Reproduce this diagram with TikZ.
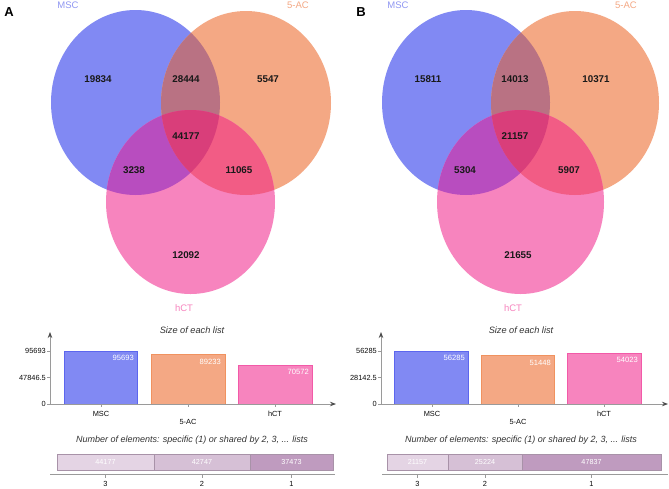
\documentclass[tikz,border=0pt]{standalone}
\usepackage{fontspec}
\setmainfont{Liberation Sans}
\usetikzlibrary{arrows.meta}
\definecolor{cb}{HTML}{8189F3}
\definecolor{co}{HTML}{F4A884}
\definecolor{cp}{HTML}{F784BE}
\definecolor{cbo}{HTML}{B97283}
\definecolor{cbp}{HTML}{B84DBF}
\definecolor{cop}{HTML}{F25C85}
\definecolor{call}{HTML}{D93E7A}
\definecolor{lb}{HTML}{9097F2}
\definecolor{bb}{HTML}{5C66EE}
\definecolor{bo}{HTML}{F0925F}
\definecolor{bp}{HTML}{F25AA8}
\definecolor{s3}{HTML}{E4D4E4}
\definecolor{s2}{HTML}{D6C0D6}
\definecolor{s1}{HTML}{BF9BBF}
\definecolor{sb}{HTML}{A892A8}
\definecolor{ax}{HTML}{9A9A9A}
\tikzset{
  num/.style={font=\bfseries\fontsize{9.8}{10}\selectfont, text=black!90, inner sep=0pt},
  setlab/.style={font=\fontsize{9.5}{10}\selectfont, inner sep=0pt},
  panel/.style={font=\bfseries\fontsize{13}{13}\selectfont, inner sep=0pt},
  ttl/.style={font=\itshape\fontsize{9.2}{10}\selectfont, text=black!80, inner sep=0pt},
  tick/.style={font=\fontsize{7.4}{8}\selectfont, text=black!95, inner sep=0pt},
  val/.style={font=\fontsize{7.6}{8}\selectfont, text=white, inner sep=0pt},
  cat/.style={font=\fontsize{7.4}{8}\selectfont, text=black!95, inner sep=0pt},
  axis/.style={draw=ax, line width=0.8pt},
  axarrow/.style={axis, -{Stealth[length=6pt,width=4.5pt,color=black!70,fill=black!70]}},
  seg/.style={draw=sb, line width=0.6pt},
  segval/.style={font=\fontsize{7.2}{8}\selectfont, text=white, inner sep=0pt},
}
\begin{document}
\begin{tikzpicture}[x=1pt,y=-1pt]
\useasboundingbox (0,0) rectangle (669,488);
\fill[white] (0,0) rectangle (669,488);
% ================= Panel A Venn =================
\def\BA{(135.5,102.5) ellipse [x radius=84.5, y radius=92.5]}
\def\OA{(246,103) ellipse [x radius=85, y radius=92]}
\def\PA{(190.5,202) ellipse [x radius=84.5, y radius=92]}
\fill[cb] \BA; \fill[co] \OA; \fill[cp] \PA;
\begin{scope}\clip \BA; \fill[cbo] \OA; \end{scope}
\begin{scope}\clip \BA; \fill[cbp] \PA; \end{scope}
\begin{scope}\clip \OA; \fill[cop] \PA; \end{scope}
\begin{scope}\clip \BA; \clip \OA; \fill[call] \PA; \end{scope}
\node[panel] (pA) at (9,12) {A};
\node[setlab, text=lb] (mscA) at (68,5) {MSC};
\node[setlab, text=co] (acA) at (298,5) {5-AC};
\node[setlab, text=cp] (hctA) at (184,308) {hCT};
\node[num] (a1) at (98,79) {19834};
\node[num] (a2) at (186,79) {28444};
\node[num] (a3) at (268,79) {5547};
\node[num] (a4) at (186,136) {44177};
\node[num] (a5) at (134,170) {3238};
\node[num] (a6) at (239,170) {11065};
\node[num] (a7) at (186,255) {12092};
% ================= Panel A bars =================
\node[ttl] (tA) at (192,330) {Size of each list};
\coordinate (oA) at (50,404);
\coordinate (yA) at (50,332);
\coordinate (xA) at (336,404);
\filldraw[fill=cb, draw=bb, line width=0.7pt] (64,351) rectangle (137,404);
\filldraw[fill=co, draw=bo, line width=0.7pt] (151,354.6) rectangle (225,404);
\filldraw[fill=cp, draw=bp, line width=0.7pt] (238,364.9) rectangle (312,404);
\draw[axarrow] (oA) -- (yA);
\draw[axarrow] (oA) -- (xA);
\draw[axis] (47,351) -- (50,351) (47,377.5) -- (50,377.5) (47,404) -- (50,404);
\node[tick, anchor=east] (ta1) at (46,351) {95693};
\node[tick, anchor=east] (ta2) at (46,377.5) {47846.5};
\node[tick, anchor=east] (ta3) at (46,404) {0};
\node[val, anchor=north east] (va1) at (134,355) {95693};
\node[val, anchor=north east] (va2) at (221,358.6) {89233};
\node[val, anchor=north east] (va3) at (309,368.9) {70572};
\draw[axis] (101,404) -- (101,407) (188,404) -- (188,407) (275,404) -- (275,407);
\node[cat] (ca1) at (101,414) {MSC};
\node[cat] (ca2) at (188,422) {5-AC};
\node[cat] (ca3) at (275,414) {hCT};
\node[ttl, font=\itshape\fontsize{9}{10}\selectfont] (nA) at (192,440) {Number of elements: specific (1) or shared by 2, 3, ... lists};
\fill[s3] (57,454) rectangle (154,470);
\fill[s2] (154,454) rectangle (250,470);
\fill[s1] (250,454) rectangle (333,470);
\draw[seg] (57,454) rectangle (154,470) (154,454) rectangle (250,470) (250,454) rectangle (333,470);
\node[segval] (sa1) at (105.5,462) {44177};
\node[segval] (sa2) at (202,462) {42747};
\node[segval] (sa3) at (291.5,462) {37473};
\coordinate (lA1) at (50,474);
\coordinate (lA2) at (335,474);
\draw[axis] (lA1) -- (lA2);
\draw[axis] (105.5,474) -- (105.5,478) (202,474) -- (202,478) (291.5,474) -- (291.5,478);
\node[cat] (la1) at (105.5,484) {3};
\node[cat] (la2) at (202,484) {2};
\node[cat] (la3) at (291.5,484) {1};
% ================= Panel B Venn =================
\def\BB{(466,102.5) ellipse [x radius=84, y radius=92.5]}
\def\OB{(575,103) ellipse [x radius=84, y radius=92]}
\def\PB{(520.5,202) ellipse [x radius=83.5, y radius=92]}
\fill[cb] \BB; \fill[co] \OB; \fill[cp] \PB;
\begin{scope}\clip \BB; \fill[cbo] \OB; \end{scope}
\begin{scope}\clip \BB; \fill[cbp] \PB; \end{scope}
\begin{scope}\clip \OB; \fill[cop] \PB; \end{scope}
\begin{scope}\clip \BB; \clip \OB; \fill[call] \PB; \end{scope}
\node[panel] (pB) at (361,12) {B};
\node[setlab, text=lb] (mscB) at (398,5) {MSC};
\node[setlab, text=co] (acB) at (626,5) {5-AC};
\node[setlab, text=cp] (hctB) at (513,308) {hCT};
\node[num] (b1) at (428,79) {15811};
\node[num] (b2) at (515,79) {14013};
\node[num] (b3) at (596,79) {10371};
\node[num] (b4) at (515,136) {21157};
\node[num] (b5) at (465,170) {5304};
\node[num] (b6) at (569,170) {5907};
\node[num] (b7) at (518,255) {21655};
% ================= Panel B bars =================
\node[ttl] (tB) at (521,330) {Size of each list};
\coordinate (oB) at (381,404);
\coordinate (yB) at (381,332);
\coordinate (xB) at (668,404);
\filldraw[fill=cb, draw=bb, line width=0.7pt] (394,351) rectangle (468,404);
\filldraw[fill=co, draw=bo, line width=0.7pt] (481,355.6) rectangle (554,404);
\filldraw[fill=cp, draw=bp, line width=0.7pt] (567,353.1) rectangle (641,404);
\draw[axarrow] (oB) -- (yB);
\draw[axarrow] (oB) -- (xB);
\draw[axis] (378,351) -- (381,351) (378,377.5) -- (381,377.5) (378,404) -- (381,404);
\node[tick, anchor=east] (tb1) at (377,351) {56285};
\node[tick, anchor=east] (tb2) at (377,377.5) {28142.5};
\node[tick, anchor=east] (tb3) at (377,404) {0};
\node[val, anchor=north east] (vb1) at (465,355) {56285};
\node[val, anchor=north east] (vb2) at (551,359.6) {51448};
\node[val, anchor=north east] (vb3) at (638,357.1) {54023};
\draw[axis] (432,404) -- (432,407) (518,404) -- (518,407) (604,404) -- (604,407);
\node[cat] (cb1) at (432,414) {MSC};
\node[cat] (cb2) at (518,422) {5-AC};
\node[cat] (cb3) at (604,414) {hCT};
\node[ttl, font=\itshape\fontsize{9}{10}\selectfont] (nB) at (521,440) {Number of elements: specific (1) or shared by 2, 3, ... lists};
\fill[s3] (387,454) rectangle (448,470);
\fill[s2] (448,454) rectangle (522,470);
\fill[s1] (522,454) rectangle (661,470);
\draw[seg] (387,454) rectangle (448,470) (448,454) rectangle (522,470) (522,454) rectangle (661,470);
\node[segval] (sb1) at (417.5,462) {21157};
\node[segval] (sb2) at (485,462) {25224};
\node[segval] (sb3) at (591.5,462) {47837};
\coordinate (lB1) at (382,474);
\coordinate (lB2) at (668,474);
\draw[axis] (lB1) -- (lB2);
\draw[axis] (417.5,474) -- (417.5,478) (485,474) -- (485,478) (591.5,474) -- (591.5,478);
\node[cat] (lb1) at (417.5,484) {3};
\node[cat] (lb2) at (485,484) {2};
\node[cat] (lb3) at (591.5,484) {1};
\end{tikzpicture}
\end{document}
